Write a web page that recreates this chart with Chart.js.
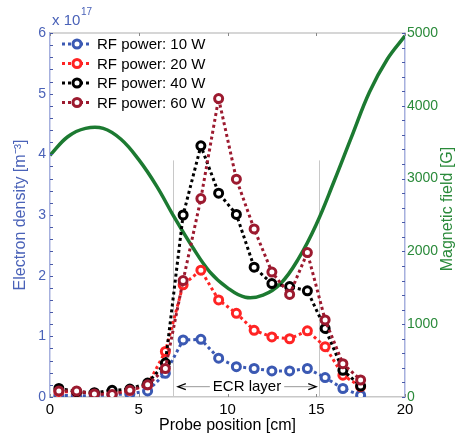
<!DOCTYPE html>
<html>
<head>
<meta charset="utf-8">
<script src="https://cdn.jsdelivr.net/npm/chart.js@4.4.1/dist/chart.umd.min.js"></script>
<style>
  html, body { margin: 0; padding: 0; background: #fff; }
  #wrap { width: 462px; height: 437px; }
</style>
</head>
<body>
<div id="wrap"><canvas id="grafico" width="462" height="437"></canvas></div>
<script>
// posicoes da sonda [cm]
const probePos = [0.5, 1.5, 2.5, 3.5, 4.5, 5.5, 6.5, 7.5, 8.5, 9.5, 10.5, 11.5, 12.5, 13.5, 14.5, 15.5, 16.5, 17.5];

// densidade eletronica [x 10^17 m^-3]
const dens10W = [0.03, 0.02, 0.02, 0.04, 0.05, 0.10, 0.39, 0.94, 0.95, 0.64, 0.50, 0.47, 0.43, 0.43, 0.47, 0.32, 0.14, 0.03];
const dens20W = [0.09, 0.08, 0.06, 0.06, 0.11, 0.20, 0.75, 1.85, 2.09, 1.60, 1.38, 1.10, 0.99, 0.96, 1.09, 0.83, 0.36, 0.17];
const dens40W = [0.14, 0.09, 0.07, 0.11, 0.13, 0.23, 0.56, 3.00, 4.14, 3.36, 3.01, 2.14, 1.87, 1.82, 1.75, 1.13, 0.44, 0.18];
const dens60W = [0.10, 0.10, 0.05, 0.04, 0.11, 0.20, 0.47, 1.92, 3.27, 4.92, 3.59, 2.77, 2.06, 1.69, 2.38, 1.27, 0.55, 0.28];

// campo magnetico [G]
const fieldPos = [0, 1, 2, 3, 4, 5, 6, 7, 8, 9, 10, 11, 12, 13, 14, 15, 16, 17, 18, 19, 20];
const fieldB = [3320, 3575, 3690, 3690, 3540, 3260, 2900, 2470, 2070, 1720, 1500, 1370, 1400, 1560, 1900, 2370, 2960, 3580, 4190, 4640, 4960];

const seriesLabels = ['RF power: 10 W', 'RF power: 20 W', 'RF power: 40 W', 'RF power: 60 W'];

// camada ECR
const ecrLines = [6.95, 15.15];
const ecrTop = 3.9;
const ecrArrow = [7.2, 15.0];
const ecrLabel = 'ECR layer';
const ecrLabelPos = [11.1, 0.17];

const xTicks = [0, 5, 10, 15, 20];

const azul = '#3b59b3';
const vermelho = '#ff2424';
const preto = '#000000';
const vinho = '#9c1a2f';
const verde = '#1c7a31';
const azulEixo = '#4a62b8';
const verdeEixo = '#2a8a3a';
const fonte = '"Liberation Sans", Arial, sans-serif';

function pontos(xs, ys) {
    return xs.map((x, i) => ({ x: x, y: ys[i] }));
}

function serie(label, dados, cor, ordem) {
    return {
        label: label,
        data: pontos(probePos, dados),
        yAxisID: 'y',
        borderColor: cor,
        backgroundColor: '#fff',
        borderWidth: 3,
        borderDash: [3, 3],
        pointRadius: 4,
        pointBorderWidth: 3,
        pointBorderColor: cor,
        pointBackgroundColor: '#fff',
        tension: 0,
        order: ordem
    };
}

const extras = {
    id: 'extras',
    beforeDatasetsDraw(chart) {
        const ctx = chart.ctx;
        const x = chart.scales.x, y = chart.scales.y;
        ctx.save();
        ctx.strokeStyle = '#c8c8c8';
        ctx.lineWidth = 1;
        ecrLines.forEach(v => {
            const px = Math.round(x.getPixelForValue(v)) + 0.5;
            ctx.beginPath();
            ctx.moveTo(px, y.getPixelForValue(ecrTop));
            ctx.lineTo(px, y.getPixelForValue(0));
            ctx.stroke();
        });
        ctx.restore();
    },
    afterDraw(chart) {
        const ctx = chart.ctx;
        const a = chart.chartArea;
        const x = chart.scales.x, y = chart.scales.y, y2 = chart.scales.y2;
        ctx.save();

        // moldura superior
        ctx.strokeStyle = '#c8c8c8';
        ctx.lineWidth = 1.5;
        ctx.beginPath();
        ctx.moveTo(a.left, a.top);
        ctx.lineTo(a.right, a.top);
        ctx.stroke();

        // marcas do eixo x
        ctx.strokeStyle = '#888';
        ctx.lineWidth = 1;
        xTicks.forEach(v => {
            const px = Math.round(x.getPixelForValue(v)) + 0.5;
            ctx.beginPath();
            ctx.moveTo(px, a.top); ctx.lineTo(px, a.top + 3);
            ctx.moveTo(px, a.bottom); ctx.lineTo(px, a.bottom - 3);
            ctx.stroke();
        });

        // marcas dos eixos y
        ctx.strokeStyle = '#4a5aa8';
        y.ticks.forEach(t => {
            const py = Math.round(y.getPixelForValue(t.value)) + 0.5;
            ctx.beginPath();
            ctx.moveTo(a.left, py); ctx.lineTo(a.left + 3, py);
            ctx.stroke();
        });
        y2.ticks.forEach(t => {
            const py = Math.round(y2.getPixelForValue(t.value)) + 0.5;
            ctx.beginPath();
            ctx.moveTo(a.right, py); ctx.lineTo(a.right - 3, py);
            ctx.stroke();
        });

        // titulo do eixo direito (lido de baixo para cima)
        ctx.save();
        ctx.translate(448, (a.top + a.bottom) / 2 - 6);
        ctx.rotate(-Math.PI / 2);
        ctx.fillStyle = verdeEixo;
        ctx.font = '16px ' + fonte;
        ctx.textAlign = 'center';
        ctx.textBaseline = 'middle';
        ctx.fillText('Magnetic field [G]', 0, 0);
        ctx.restore();

        // x 10^17
        ctx.fillStyle = azulEixo;
        ctx.textBaseline = 'middle';
        ctx.textAlign = 'left';
        ctx.font = '15px ' + fonte;
        ctx.fillText('x 10', a.left + 2, 21);
        ctx.font = '10px ' + fonte;
        ctx.fillText('17', a.left + 31, 12);

        // legenda
        const cores = [azul, vermelho, preto, vinho];
        const linhas = [44, 63.5, 83, 102.5];
        seriesLabels.forEach((txt, i) => {
            const yy = linhas[i];
            ctx.strokeStyle = cores[i];
            ctx.lineWidth = 3;
            ctx.setLineDash([3, 3]);
            ctx.beginPath();
            ctx.moveTo(62, yy); ctx.lineTo(91, yy);
            ctx.stroke();
            ctx.setLineDash([]);
            ctx.beginPath();
            ctx.arc(77, yy, 4, 0, Math.PI * 2);
            ctx.fillStyle = '#fff';
            ctx.fill();
            ctx.stroke();
            ctx.fillStyle = '#000';
            ctx.font = '15px ' + fonte;
            ctx.textAlign = 'left';
            ctx.fillText(txt, 97, yy + 1);
        });

        // rotulo ECR
        const cx = x.getPixelForValue(ecrLabelPos[0]);
        const cy = y.getPixelForValue(ecrLabelPos[1]);
        ctx.font = '15px ' + fonte;
        ctx.textAlign = 'center';
        ctx.fillStyle = '#000';
        ctx.fillText(ecrLabel, cx, cy);
        const w = ctx.measureText(ecrLabel).width / 2 + 3;
        const xl = x.getPixelForValue(ecrArrow[0]);
        const xr = x.getPixelForValue(ecrArrow[1]);
        ctx.strokeStyle = '#999';
        ctx.lineWidth = 1;
        ctx.beginPath();
        ctx.moveTo(xl, cy); ctx.lineTo(cx - w, cy);
        ctx.moveTo(cx + w, cy); ctx.lineTo(xr, cy);
        ctx.stroke();
        ctx.strokeStyle = '#000';
        ctx.lineWidth = 1.2;
        ctx.beginPath();
        ctx.moveTo(xl + 8, cy - 3); ctx.lineTo(xl, cy); ctx.lineTo(xl + 8, cy + 3);
        ctx.moveTo(xr - 8, cy - 3); ctx.lineTo(xr, cy); ctx.lineTo(xr - 8, cy + 3);
        ctx.stroke();

        ctx.restore();
    }
};

const ctx = document.getElementById('grafico').getContext('2d');
window.chart = new Chart(ctx, {
    type: 'line',
    data: {
        datasets: [
            serie(seriesLabels[0], dens10W, azul, 4),
            serie(seriesLabels[1], dens20W, vermelho, 3),
            serie(seriesLabels[2], dens40W, preto, 2),
            serie(seriesLabels[3], dens60W, vinho, 1),
            {
                label: 'Magnetic field',
                data: pontos(fieldPos, fieldB),
                yAxisID: 'y2',
                borderColor: verde,
                borderWidth: 3.5,
                pointRadius: 0,
                tension: 0.4,
                fill: false,
                order: 5
            }
        ]
    },
    options: {
        responsive: false,
        animation: false,
        layout: { padding: { top: 33, left: 0, right: 0, bottom: 0 } },
        plugins: {
            legend: { display: false },
            tooltip: { enabled: false }
        },
        scales: {
            x: {
                type: 'linear',
                min: 0,
                max: 20,
                grid: { display: false, drawTicks: false },
                border: { color: '#c8c8c8', width: 1.5 },
                ticks: { stepSize: 5, color: '#000', font: { family: fonte, size: 15 }, padding: 4, maxRotation: 0 },
                title: { display: true, text: 'Probe position [cm]', color: '#000', font: { family: fonte, size: 16 }, padding: { top: 0, bottom: 2 } },
                afterFit: s => { s.height = 40; }
            },
            y: {
                position: 'left',
                min: 0,
                max: 6,
                grid: { display: false, drawTicks: false },
                border: { color: '#a6b0de', width: 1.5 },
                ticks: {
                    stepSize: 0.2,
                    autoSkip: false,
                    color: azulEixo,
                    font: { family: fonte, size: 14 },
                    padding: 4,
                    callback: v => Math.abs(v - Math.round(v)) < 1e-6 ? String(Math.round(v)) : ''
                },
                title: { display: true, text: 'Electron density [m⁻³]', color: azulEixo, font: { family: fonte, size: 16 }, padding: { top: 11, bottom: 0 } },
                afterFit: s => { s.width = 50; }
            },
            y2: {
                position: 'right',
                min: 0,
                max: 5000,
                grid: { display: false, drawTicks: false },
                border: { color: '#a6b0de', width: 1.5 },
                ticks: {
                    stepSize: 200,
                    autoSkip: false,
                    color: verdeEixo,
                    font: { family: fonte, size: 14 },
                    padding: 2,
                    callback: v => v % 1000 === 0 ? String(v) : ''
                },
                title: { display: false },
                afterFit: s => { s.width = 57; }
            }
        }
    },
    plugins: [extras]
});
</script>
</body>
</html>
